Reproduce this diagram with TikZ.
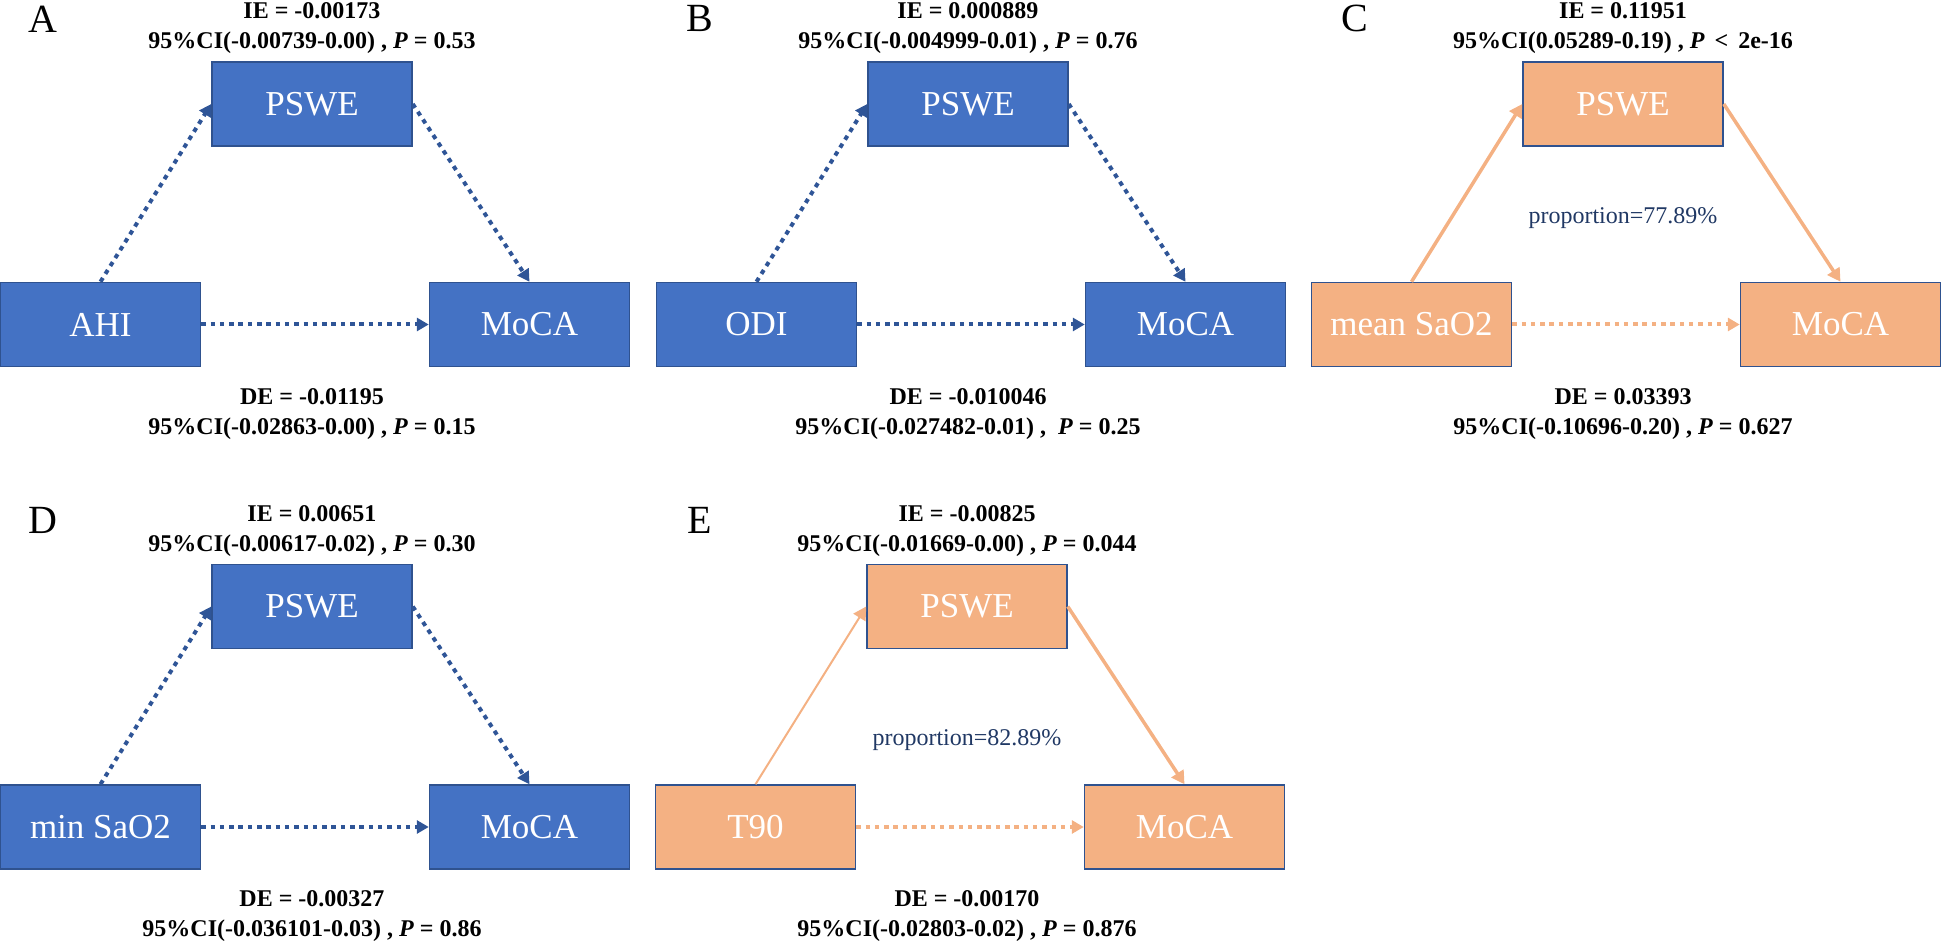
\documentclass[tikz,border=0pt]{standalone}
\usepackage{fontspec}
\setmainfont{Liberation Serif}
\usepackage{tikz}
\usetikzlibrary{arrows.meta, positioning}
\definecolor{boxblue}{HTML}{4472C4}
\definecolor{edgeblue}{HTML}{2F528F}
\definecolor{arrowblue}{HTML}{2F5597}
\definecolor{boxorange}{HTML}{F4B183}
\definecolor{propnavy}{HTML}{203864}
\tikzset{var node/.style={rectangle,draw=edgeblue,line width=1.5pt,minimum width=200pt,minimum height=84pt,inner sep=0pt,text=white,font=\fontsize{35}{40}\selectfont},
   blue node/.style={var node,fill=boxblue},
   orange node/.style={var node,fill=boxorange},
   stat text/.style={align=center,inner sep=0pt,font=\bfseries\fontsize{24}{30}\selectfont},
   panel label/.style={inner sep=0pt,font=\fontsize{40}{40}\selectfont},
   prop text/.style={inner sep=0pt,text=propnavy,font=\fontsize{24}{28}\selectfont},
   blue dots/.style={draw=arrowblue,line width=4pt,dash pattern=on 4.5pt off 4.8pt,-{Triangle[length=12pt,width=13pt]}},
   orange dots/.style={draw=boxorange,line width=4pt,dash pattern=on 4.5pt off 4.8pt,-{Triangle[length=12pt,width=13pt]}},
   orange line/.style={draw=boxorange,line width=3.5pt,-{Triangle[length=13pt,width=14pt]}},}

\begin{document}
\begin{tikzpicture}[x=1pt, y=1pt]
   \useasboundingbox (0,0) rectangle (1944,941);
   % A
   \node[blue node] (pswe-a) at (312,837) {PSWE};
   \node[blue node] (ahi-a) [below left = 135pt and 10pt of pswe-a] {AHI};
   \node[blue node] (moca-a) [below right = 135pt and 16pt of pswe-a] {MoCA};
   \node[panel label] (lab-a) [above left = 29pt and 154pt of pswe-a] {A};
   \node[stat text] (ie-a) [above = 7pt of pswe-a] {IE = -0.00173\\95\%CI(-0.00739-0.00) , \textit{P} = 0.53};
   \coordinate (mid-a) at (pswe-a |- ahi-a.south);
   \node[stat text] (de-a) [below = 21pt of mid-a] {DE = -0.01195\\95\%CI(-0.02863-0.00) , \textit{P} = 0.15};
   \draw[blue dots] (ahi-a.north) -- (pswe-a.west);
   \draw[blue dots] (pswe-a.east) -- (moca-a.north);
   \draw[blue dots] (ahi-a.east) -- (moca-a.west);
   % B
   \node[blue node] (pswe-b) at (968,837) {PSWE};
   \node[blue node] (odi-b) [below left = 135pt and 10pt of pswe-b] {ODI};
   \node[blue node] (moca-b) [below right = 135pt and 16pt of pswe-b] {MoCA};
   \node[panel label] (lab-b) [above left = 29pt and 154pt of pswe-b] {B};
   \node[stat text] (ie-b) [above = 7pt of pswe-b] {IE = 0.000889\\95\%CI(-0.004999-0.01) , \textit{P} = 0.76};
   \coordinate (mid-b) at (pswe-b |- odi-b.south);
   \node[stat text] (de-b) [below = 21pt of mid-b] {DE = -0.010046\\95\%CI(-0.027482-0.01) , \ \textit{P} = 0.25};
   \draw[blue dots] (odi-b.north) -- (pswe-b.west);
   \draw[blue dots] (pswe-b.east) -- (moca-b.north);
   \draw[blue dots] (odi-b.east) -- (moca-b.west);
   % C
   \node[orange node] (pswe-c) at (1623,837) {PSWE};
   \node[orange node] (mean-c) [below left = 135pt and 10pt of pswe-c] {mean SaO2};
   \node[orange node] (moca-c) [below right = 135pt and 16pt of pswe-c] {MoCA};
   \node[panel label] (lab-c) [above left = 29pt and 154pt of pswe-c] {C};
   \node[stat text] (ie-c) [above = 7pt of pswe-c] {IE = 0.11951\\95\%CI(0.05289-0.19) , \textit{P} \,<\, 2e-16};
   \node[prop text] (prop-c) [below = 61pt of pswe-c] {proportion=77.89\%};
   \coordinate (mid-c) at (pswe-c |- mean-c.south);
   \node[stat text] (de-c) [below = 21pt of mid-c] {DE = 0.03393\\95\%CI(-0.10696-0.20) , \textit{P} = 0.627};
   \draw[orange line] (mean-c.north) -- (pswe-c.west);
   \draw[orange line] (pswe-c.east) -- (moca-c.north);
   \draw[orange dots] (mean-c.east) -- (moca-c.west);
   % D
   \node[blue node] (pswe-d) at (312,334.5) {PSWE};
   \node[blue node] (min-d) [below left = 135pt and 10pt of pswe-d] {min SaO2};
   \node[blue node] (moca-d) [below right = 135pt and 16pt of pswe-d] {MoCA};
   \node[panel label] (lab-d) [above left = 30pt and 154pt of pswe-d] {D};
   \node[stat text] (ie-d) [above = 7pt of pswe-d] {IE = 0.00651\\95\%CI(-0.00617-0.02) , \textit{P} = 0.30};
   \coordinate (mid-d) at (pswe-d |- min-d.south);
   \node[stat text] (de-d) [below = 21pt of mid-d] {DE = -0.00327\\95\%CI(-0.036101-0.03) , \textit{P} = 0.86};
   \draw[blue dots] (min-d.north) -- (pswe-d.west);
   \draw[blue dots] (pswe-d.east) -- (moca-d.north);
   \draw[blue dots] (min-d.east) -- (moca-d.west);
   % E
   \node[orange node] (pswe-e) at (967,334.5) {PSWE};
   \node[orange node] (t90-e) [below left = 135pt and 10pt of pswe-e] {T90};
   \node[orange node] (moca-e) [below right = 135pt and 16pt of pswe-e] {MoCA};
   \node[panel label] (lab-e) [above left = 30pt and 154pt of pswe-e] {E};
   \node[stat text] (ie-e) [above = 7pt of pswe-e] {IE = -0.00825\\95\%CI(-0.01669-0.00) , \textit{P} = 0.044};
   \node[prop text] (prop-e) [below = 80pt of pswe-e] {proportion=82.89\%};
   \coordinate (mid-e) at (pswe-e |- t90-e.south);
   \node[stat text] (de-e) [below = 21pt of mid-e] {DE = -0.00170\\95\%CI(-0.02803-0.02) , \textit{P} = 0.876};
   \draw[orange line, line width=2pt] (t90-e.north) -- (pswe-e.west);
   \draw[orange line] (pswe-e.east) -- (moca-e.north);
   \draw[orange dots] (t90-e.east) -- (moca-e.west);
\end{tikzpicture}
\end{document}
